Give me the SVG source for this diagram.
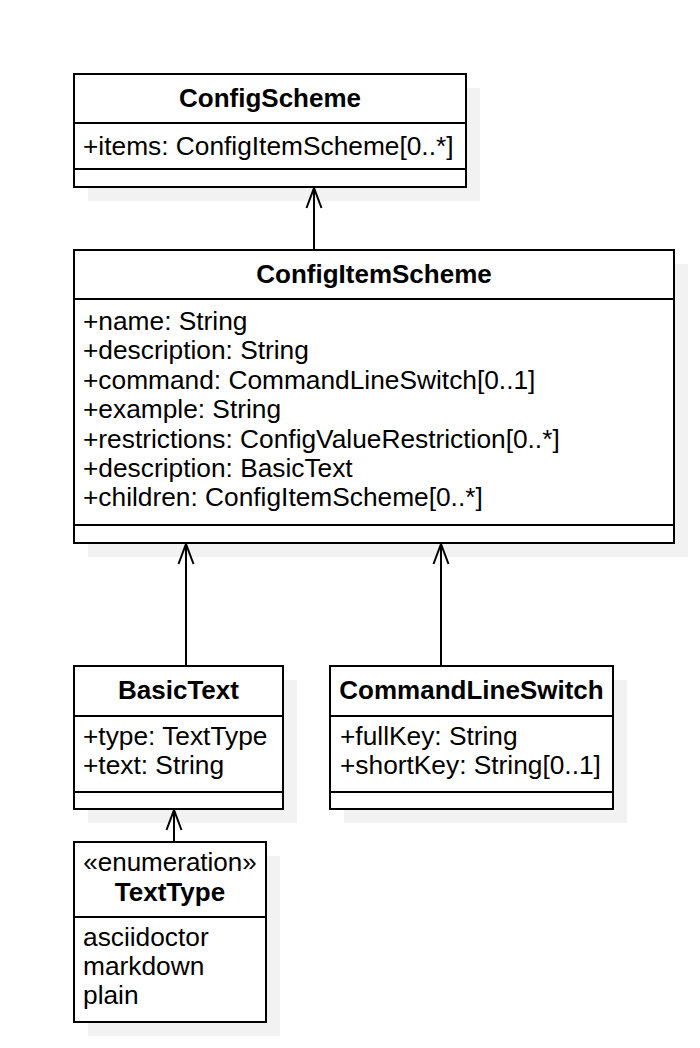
<svg xmlns="http://www.w3.org/2000/svg" width="700" height="1048" viewBox="0 0 700 1048">
<style>
.bg{fill:#ffffff}
.shadow{fill:#f2f2f2;stroke:none}
.box{fill:#ffffff;stroke:#000000;stroke-width:2}
.div{stroke:#000000;stroke-width:2}
.t{font-family:"Liberation Sans",Arial,sans-serif;font-size:26.3px;fill:#000000}
.title{font-weight:bold;font-size:26px;text-anchor:middle}
.ster{text-anchor:middle;font-size:26px}
.conn{stroke:#000000;stroke-width:2;fill:none}
</style>
<defs>
<marker id="open" viewBox="-22 -10 24 20" markerWidth="24" markerHeight="20" refX="0" refY="0" orient="auto" markerUnits="userSpaceOnUse">
<path d="M-20,-7.5 L0,0 L-20,7.5" fill="none" stroke="#000000" stroke-width="2"/>
</marker>
</defs>
<rect class="bg" x="0" y="0" width="700" height="1048"/>

<g id="ConfigScheme">
<rect class="shadow" x="88" y="88" width="392" height="113"/>
<rect class="box" x="74" y="74" width="392" height="113"/>
<line class="div" x1="74" y1="123" x2="466" y2="123"/>
<line class="div" x1="74" y1="169" x2="466" y2="169"/>
<text class="t title" x="270" y="107">ConfigScheme</text>
<text class="t" x="83" y="155">+items: ConfigItemScheme[0..*]</text>
</g>

<g id="ConfigItemScheme">
<rect class="shadow" x="88" y="264" width="600" height="293"/>
<rect class="box" x="74" y="250" width="600" height="293"/>
<line class="div" x1="74" y1="299" x2="674" y2="299"/>
<line class="div" x1="74" y1="525" x2="674" y2="525"/>
<text class="t title" x="374" y="283">ConfigItemScheme</text>
<text class="t" x="83" y="330">+name: String</text>
<text class="t" x="83" y="359.4">+description: String</text>
<text class="t" x="83" y="388.8">+command: CommandLineSwitch[0..1]</text>
<text class="t" x="83" y="418.2">+example: String</text>
<text class="t" x="83" y="447.6">+restrictions: ConfigValueRestriction[0..*]</text>
<text class="t" x="83" y="477">+description: BasicText</text>
<text class="t" x="83" y="506.4">+children: ConfigItemScheme[0..*]</text>
</g>

<g id="BasicText">
<rect class="shadow" x="88" y="680" width="209" height="143"/>
<rect class="box" x="74" y="666" width="209" height="143"/>
<line class="div" x1="74" y1="716" x2="283" y2="716"/>
<line class="div" x1="74" y1="792" x2="283" y2="792"/>
<text class="t title" x="178.5" y="699">BasicText</text>
<text class="t" x="83" y="745">+type: TextType</text>
<text class="t" x="83" y="774">+text: String</text>
</g>

<g id="CommandLineSwitch">
<rect class="shadow" x="344" y="680" width="283" height="143"/>
<rect class="box" x="330" y="666" width="283" height="143"/>
<line class="div" x1="330" y1="716" x2="613" y2="716"/>
<line class="div" x1="330" y1="792" x2="613" y2="792"/>
<text class="t title" x="471.5" y="699">CommandLineSwitch</text>
<text class="t" x="340" y="745">+fullKey: String</text>
<text class="t" x="340" y="774">+shortKey: String[0..1]</text>
</g>

<g id="TextType">
<rect class="shadow" x="88" y="856" width="192" height="180"/>
<rect class="box" x="74" y="842" width="192" height="180"/>
<line class="div" x1="74" y1="917" x2="266" y2="917"/>
<text class="t ster" x="170" y="871">«enumeration»</text>
<text class="t title" x="170" y="901">TextType</text>
<text class="t" x="83" y="946">asciidoctor</text>
<text class="t" x="83" y="975">markdown</text>
<text class="t" x="83" y="1004">plain</text>
</g>

<g id="connectors">
<line class="conn" x1="314" y1="250" x2="314" y2="188" marker-end="url(#open)"/>
<line class="conn" x1="186" y1="666" x2="186" y2="544" marker-end="url(#open)"/>
<line class="conn" x1="441" y1="666" x2="441" y2="544" marker-end="url(#open)"/>
<line class="conn" x1="174" y1="842" x2="174" y2="810" marker-end="url(#open)"/>
</g>
</svg>
